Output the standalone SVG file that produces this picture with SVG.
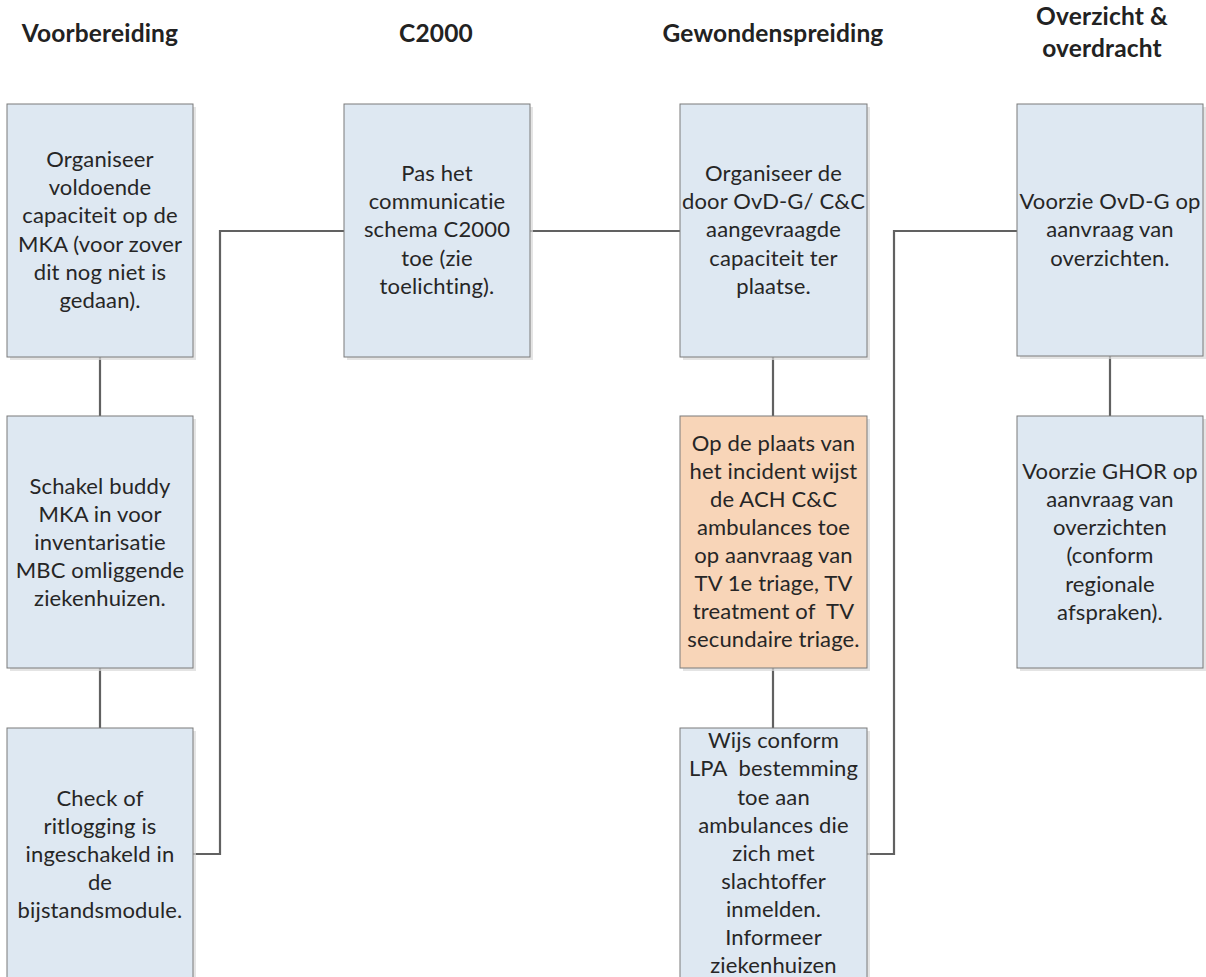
<svg xmlns="http://www.w3.org/2000/svg" width="1206" height="977" viewBox="0 0 1206 977">
<style>
text{font-variant-ligatures:none;font-feature-settings:"liga" 0,"dlig" 0,"clig" 0;letter-spacing:0.15px}
.hdr{font-family:Lato,"Open Sans","Liberation Sans",sans-serif;font-weight:bold;font-size:24.5px;fill:#222;text-anchor:middle}
.t{font-family:Lato,"Open Sans","Liberation Sans",sans-serif;font-size:22px;fill:#262626;text-anchor:middle}
.box{fill:#DEE8F2;stroke:#7a7a7a;stroke-width:1}
.org{fill:#F8D5B8;stroke:#7a7a7a;stroke-width:1}
.sh{fill:#d9d9d9;opacity:0.7}
.c{fill:none;stroke:#616161;stroke-width:2.2}
</style>
<rect width="1206" height="977" fill="#fff"/>
<g id="headers">
<text class="hdr" x="100" y="42">Voorbereiding</text>
<text class="hdr" x="436" y="42">C2000</text>
<text class="hdr" x="773" y="42">Gewondenspreiding</text>
<text class="hdr" x="1102" y="25">Overzicht &amp;</text>
<text class="hdr" x="1102" y="57">overdracht</text>
</g>
<g id="connectors">
<path class="c" d="M100 357V416M100 668V728"/>
<path class="c" d="M193 854H220V231H344"/>
<path class="c" d="M529 231H680"/>
<path class="c" d="M773 357V416M773 668V728"/>
<path class="c" d="M867 854H894V231H1017"/>
<path class="c" d="M1110 356V416"/>
</g>
<g id="n1">
<rect class="sh" x="10" y="107" width="186" height="253"/>
<rect class="box" x="7" y="104" width="186" height="253"/>
<text class="t"><tspan x="100" y="167">Organiseer</tspan><tspan x="100" y="195">voldoende</tspan><tspan x="100" y="223">capaciteit op de</tspan><tspan x="100" y="252">MKA (voor zover</tspan><tspan x="100" y="280">dit nog niet is</tspan><tspan x="100" y="308">gedaan).</tspan></text>
</g>
<g id="n2">
<rect class="sh" x="10" y="419" width="186" height="252"/>
<rect class="box" x="7" y="416" width="186" height="252"/>
<text class="t"><tspan x="100" y="494">Schakel buddy</tspan><tspan x="100" y="522">MKA in voor</tspan><tspan x="100" y="550">inventarisatie</tspan><tspan x="100" y="578">MBC omliggende</tspan><tspan x="100" y="606">ziekenhuizen.</tspan></text>
</g>
<g id="n3">
<rect class="sh" x="10" y="731" width="186" height="260"/>
<rect class="box" x="7" y="728" width="186" height="260"/>
<text class="t"><tspan x="100" y="806">Check of</tspan><tspan x="100" y="834">ritlogging is</tspan><tspan x="100" y="862">ingeschakeld in</tspan><tspan x="100" y="890">de</tspan><tspan x="100" y="918">bijstandsmodule.</tspan></text>
</g>
<g id="n4">
<rect class="sh" x="347" y="107" width="186" height="253"/>
<rect class="box" x="344" y="104" width="186" height="253"/>
<text class="t"><tspan x="437" y="181">Pas het</tspan><tspan x="437" y="209">communicatie</tspan><tspan x="437" y="237">schema C2000</tspan><tspan x="437" y="266">toe (zie</tspan><tspan x="437" y="294">toelichting).</tspan></text>
</g>
<g id="n5">
<rect class="sh" x="683" y="107" width="187" height="253"/>
<rect class="box" x="680" y="104" width="187" height="253"/>
<text class="t"><tspan x="773.5" y="181">Organiseer de</tspan><tspan x="773.5" y="209">door OvD-G/ C&amp;C</tspan><tspan x="773.5" y="237">aangevraagde</tspan><tspan x="773.5" y="266">capaciteit ter</tspan><tspan x="773.5" y="294">plaatse.</tspan></text>
</g>
<g id="n6">
<rect class="sh" x="683" y="419" width="187" height="252"/>
<rect class="org" x="680" y="416" width="187" height="252"/>
<text class="t" xml:space="preserve"><tspan x="773.5" y="451">Op de plaats van</tspan><tspan x="773.5" y="479">het incident wijst</tspan><tspan x="773.5" y="507">de ACH C&amp;C</tspan><tspan x="773.5" y="535">ambulances toe</tspan><tspan x="773.5" y="563">op aanvraag van</tspan><tspan x="773.5" y="591">TV 1e triage, TV</tspan><tspan x="773.5" y="619">treatment of  TV</tspan><tspan x="773.5" y="647">secundaire triage.</tspan></text>
</g>
<g id="n7">
<rect class="sh" x="683" y="731" width="187" height="260"/>
<rect class="box" x="680" y="728" width="187" height="260"/>
<text class="t" xml:space="preserve"><tspan x="773.5" y="748">Wijs conform</tspan><tspan x="773.5" y="776">LPA  bestemming</tspan><tspan x="773.5" y="805">toe aan</tspan><tspan x="773.5" y="833">ambulances die</tspan><tspan x="773.5" y="861">zich met</tspan><tspan x="773.5" y="889">slachtoffer</tspan><tspan x="773.5" y="917">inmelden.</tspan><tspan x="773.5" y="945">Informeer</tspan><tspan x="773.5" y="973">ziekenhuizen</tspan></text>
</g>
<g id="n8">
<rect class="sh" x="1020" y="107" width="186" height="252"/>
<rect class="box" x="1017" y="104" width="186" height="252"/>
<text class="t"><tspan x="1110" y="209">Voorzie OvD-G op</tspan><tspan x="1110" y="237">aanvraag van</tspan><tspan x="1110" y="266">overzichten.</tspan></text>
</g>
<g id="n9">
<rect class="sh" x="1020" y="419" width="186" height="252"/>
<rect class="box" x="1017" y="416" width="186" height="252"/>
<text class="t"><tspan x="1110" y="479">Voorzie GHOR op</tspan><tspan x="1110" y="507">aanvraag van</tspan><tspan x="1110" y="535">overzichten</tspan><tspan x="1110" y="563">(conform</tspan><tspan x="1110" y="592">regionale</tspan><tspan x="1110" y="620">afspraken).</tspan></text>
</g>
</svg>
